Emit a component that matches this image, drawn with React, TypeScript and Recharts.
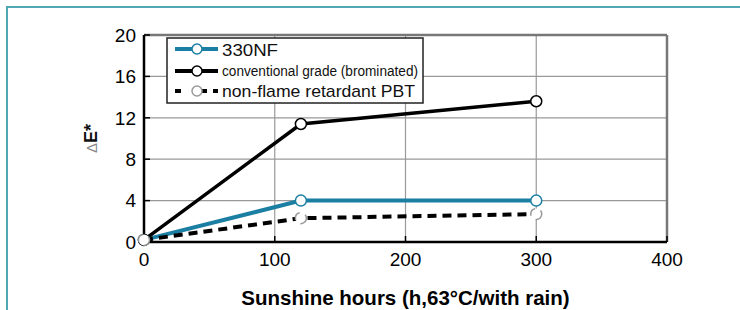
import { LineChart, Line, XAxis, YAxis, CartesianGrid, ReferenceLine } from 'recharts';

const hours = [0, 120, 300];
const nf330 = [0.2, 4, 4];
const conventional = [0.2, 11.4, 13.6];
const nonFlame = [0.2, 2.3, 2.7];

const xTicks = [0, 100, 200, 300, 400];
const yTicks = [0, 4, 8, 12, 16, 20];

const seriesNames = ['330NF', 'conventional grade (brominated)', 'non-flame retardant PBT'];

const data = hours.map((h, i) => ({
  h,
  nf330: nf330[i],
  conventional: conventional[i],
  nonFlame: nonFlame[i],
}));

const TEAL = '#1b7fa3';
const FONT = '"Liberation Sans", Arial, Helvetica, sans-serif';

// legend drawn as an overlay so it doesn't steal space from the plot
function LegendBox() {
  return (
    <svg width={258} height={67} style={{ position: 'absolute', left: 166, top: 37 }}>
      <rect x={1} y={1} width={256} height={65} fill="#fff" stroke="#222" strokeWidth={1.5} />
      <line x1={9} x2={52} y1={12} y2={12} stroke={TEAL} strokeWidth={4} />
      <circle cx={31} cy={12} r={5} fill="#fff" stroke={TEAL} strokeWidth={1.5} />
      <text x={56} y={18.5} fontSize={17} fill="#111" fontFamily={FONT} textLength={56} lengthAdjust="spacingAndGlyphs">
        {seriesNames[0]}
      </text>
      <line x1={9} x2={52} y1={34} y2={34} stroke="#000" strokeWidth={4} />
      <circle cx={31} cy={34} r={5} fill="#fff" stroke="#000" strokeWidth={1.5} />
      <text x={56} y={39} fontSize={14} fill="#111" fontFamily={FONT} textLength={196} lengthAdjust="spacingAndGlyphs">
        {seriesNames[1]}
      </text>
      <line x1={9} x2={52} y1={54} y2={54} stroke="#000" strokeWidth={4} strokeDasharray="6 14 12" />
      <circle cx={31} cy={54} r={5} fill="#fff" stroke="#999" strokeWidth={1.5} />
      <text x={56} y={60} fontSize={17} fill="#111" fontFamily={FONT} textLength={193} lengthAdjust="spacingAndGlyphs">
        {seriesNames[2]}
      </text>
    </svg>
  );
}

function YLabel(props: any) {
  const vb = props.viewBox || { x: 84, y: 35, width: 60, height: 207 };
  const cx = vb.x + 13;
  const cy = vb.y + vb.height / 2;
  return (
    <text x={cx} y={cy} transform={`rotate(-90, ${cx}, ${cy})`} textAnchor="middle" fontFamily={FONT}>
      <tspan fill="#888" fontSize={15}>Δ</tspan>
      <tspan fill="#111" fontSize={18} fontWeight="bold">E*</tspan>
    </text>
  );
}

export default function App() {
  return (
    <div style={{ position: 'absolute', left: 0, top: 0, width: 740, height: 310, background: '#fff', fontFamily: FONT }}>
      <div
        style={{
          position: 'absolute',
          left: 6,
          top: 6,
          right: 0,
          bottom: 0,
          borderTop: '2px solid #4fa7b6',
          borderLeft: '2px solid #4fa7b6',
        }}
      />
      <LineChart width={740} height={310} data={data} margin={{ top: 35, right: 73, bottom: 6, left: 84 }}>
        <CartesianGrid stroke="#999" strokeWidth={1.2} horizontalValues={yTicks} verticalValues={xTicks} />
        <ReferenceLine y={20} stroke="#777" strokeWidth={2.5} />
        <ReferenceLine x={400} stroke="#777" strokeWidth={2.5} />
        <XAxis
          dataKey="h"
          type="number"
          domain={[0, 400]}
          ticks={xTicks}
          height={62}
          tickSize={-6}
          tickMargin={17}
          axisLine={{ stroke: '#000', strokeWidth: 2.5 }}
          tickLine={{ stroke: '#000', strokeWidth: 1.5 }}
          tick={{ fill: '#000', fontSize: 19 }}
          label={{
            value: 'Sunshine hours (h,63°C/with rain)',
            position: 'insideBottom',
            offset: -1,
            style: { fill: '#000', fontSize: 20.5, fontWeight: 'bold' },
          }}
        />
        <YAxis
          type="number"
          domain={[0, 20]}
          ticks={yTicks}
          width={60}
          tickSize={-6}
          tickMargin={14}
          axisLine={{ stroke: '#000', strokeWidth: 2.5 }}
          tickLine={{ stroke: '#000', strokeWidth: 1.5 }}
          tick={{ fill: '#000', fontSize: 19 }}
          label={<YLabel />}
        />
        <Line
          dataKey="nf330"
          name={seriesNames[0]}
          stroke={TEAL}
          strokeWidth={4}
          dot={{ r: 5.5, fill: '#fff', stroke: TEAL, strokeWidth: 1.5 }}
          isAnimationActive={false}
        />
        <Line
          dataKey="conventional"
          name={seriesNames[1]}
          stroke="#000"
          strokeWidth={3.5}
          dot={{ r: 5.5, fill: '#fff', stroke: '#000', strokeWidth: 1.5 }}
          isAnimationActive={false}
        />
        <Line
          dataKey="nonFlame"
          name={seriesNames[2]}
          stroke="#000"
          strokeWidth={4}
          strokeDasharray="9 6"
          dot={{ r: 5.5, fill: '#fff', stroke: '#999', strokeWidth: 1.5 }}
          isAnimationActive={false}
        />
      </LineChart>
      <LegendBox />
    </div>
  );
}
